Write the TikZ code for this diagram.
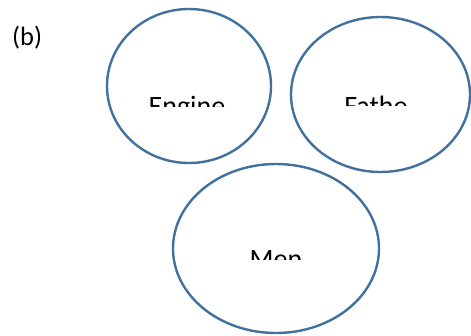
\documentclass[tikz,border=0pt]{standalone}
\usepackage{fontspec}
\setmainfont{Carlito}
\usepackage{tikz}
\usetikzlibrary{shapes.geometric}
\definecolor{ringBlue}{HTML}{41719C}
\tikzset{
  bubble/.style={ellipse,draw=ringBlue,line width=2.4pt,inner sep=0pt},
  cutlabel/.style={anchor=base,inner sep=0pt,font=\fontsize{28}{32}\selectfont},
}
\begin{document}
\begin{tikzpicture}[x=1pt,y=-1pt]
  \useasboundingbox (0,0) rectangle (471,335);
  \node[anchor=base west, inner sep=0pt, font=\fontsize{26.5}{30}\selectfont] (tag) at (12,45) {(b)};

  \node[bubble, minimum width=164pt, minimum height=154pt] (engine) at (189,86) {};
  \node[bubble, minimum width=179pt, minimum height=155pt] (father) at (380.5,94.5) {};
  \node[bubble, minimum width=206pt, minimum height=169pt] (men) at (276,248.5) {};

  % labels cut off at the bottom
  \begin{scope}
    \clip (110,90) rectangle (270,106);
    \node[cutlabel] (engineText) at (187,115) {Engine};
  \end{scope}
  \begin{scope}
    \clip (300,90) rectangle (460,105);
    \node[cutlabel] (fatherText) at (376,115) {Fathe};
  \end{scope}
  \begin{scope}
    \clip (200,243) rectangle (350,259);
    \node[cutlabel] (menText) at (276,268) {Men};
  \end{scope}
\end{tikzpicture}
\end{document}
